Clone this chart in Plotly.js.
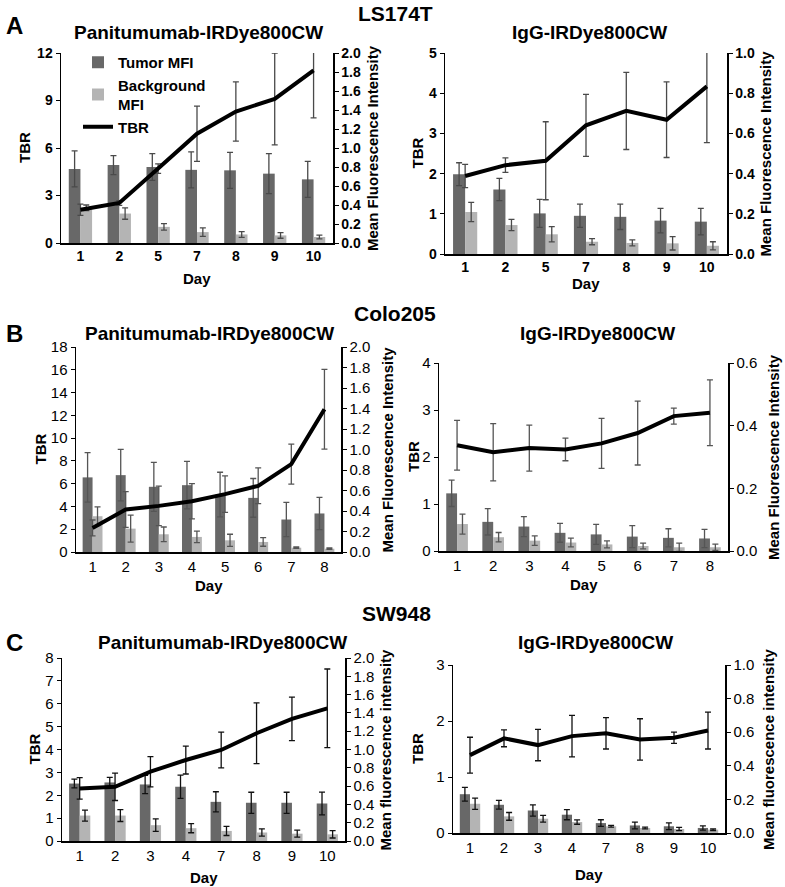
<!DOCTYPE html>
<html>
<head>
<meta charset="utf-8">
<script src="https://cdn.plot.ly/plotly-3.0.1.min.js"></script>
<style>
  body { margin: 0; background: #fff; }
  #chart { width: 785px; height: 887px; }
</style>
</head>
<body>
<div id="chart"></div>
<script>
// day labels
const daysA = ['1', '2', '5', '7', '8', '9', '10'];
const daysB = ['1', '2', '3', '4', '5', '6', '7', '8'];
const daysC = ['1', '2', '3', '4', '7', '8', '9', '10'];

// LS174T - Panitumumab (MFI on right axis, TBR on left axis)
const tumorA1 = [0.78, 0.82, 0.80, 0.77, 0.765, 0.73, 0.67];
const tumorErrA1 = [0.19, 0.10, 0.14, 0.19, 0.19, 0.21, 0.19];
const bgA1 = [0.37, 0.31, 0.17, 0.115, 0.09, 0.08, 0.063];
const bgErrA1 = [0.03, 0.06, 0.035, 0.045, 0.03, 0.03, 0.02];
const tbrA1 = [2.1, 2.53, 4.7, 6.9, 8.3, 9.1, 10.9];
const tbrErrA1 = [0.35, 0.15, 0.3, 1.75, 1.87, 2.9, 3.0];

// LS174T - IgG
const tumorA2 = [0.397, 0.321, 0.202, 0.19, 0.185, 0.166, 0.161];
const tumorErrA2 = [0.057, 0.055, 0.07, 0.058, 0.063, 0.061, 0.066];
const bgA2 = [0.209, 0.144, 0.098, 0.061, 0.055, 0.053, 0.041];
const bgErrA2 = [0.048, 0.028, 0.038, 0.015, 0.015, 0.033, 0.02];
const tbrA2 = [1.94, 2.21, 2.32, 3.2, 3.56, 3.34, 4.17];
const tbrErrA2 = [0.29, 0.18, 0.97, 0.77, 0.96, 0.94, 1.4];

// Colo205 - Panitumumab
const tumorB1 = [0.728, 0.75, 0.636, 0.652, 0.56, 0.528, 0.317, 0.376];
const tumorErrB1 = [0.241, 0.251, 0.239, 0.232, 0.218, 0.189, 0.167, 0.157];
const bgB1 = [0.349, 0.228, 0.173, 0.147, 0.114, 0.098, 0.042, 0.032];
const bgErrB1 = [0.091, 0.131, 0.071, 0.056, 0.059, 0.042, 0.007, 0.007];
const tbrB1 = [2.11, 3.73, 4.05, 4.46, 5.08, 5.81, 7.72, 12.54];
const tbrErrB1 = [0.7, 1.57, 1.73, 1.55, 1.6, 1.57, 1.76, 3.5];

// Colo205 - IgG
const tumorB2 = [0.184, 0.093, 0.078, 0.058, 0.053, 0.046, 0.042, 0.040];
const tumorErrB2 = [0.042, 0.042, 0.032, 0.03, 0.032, 0.035, 0.029, 0.029];
const bgB2 = [0.086, 0.044, 0.033, 0.027, 0.021, 0.016, 0.012, 0.012];
const bgErrB2 = [0.032, 0.015, 0.015, 0.014, 0.011, 0.009, 0.013, 0.01];
const tbrB2 = [2.25, 2.1, 2.19, 2.16, 2.29, 2.51, 2.87, 2.94];
const tbrErrB2 = [0.53, 0.61, 0.49, 0.24, 0.53, 0.68, 0.17, 0.7];

// SW948 - Panitumumab
const tumorC1 = [0.628, 0.64, 0.618, 0.593, 0.428, 0.418, 0.418, 0.41];
const tumorErrC1 = [0.048, 0.055, 0.1, 0.128, 0.11, 0.115, 0.115, 0.125];
const bgC1 = [0.278, 0.278, 0.173, 0.14, 0.11, 0.093, 0.08, 0.073];
const bgErrC1 = [0.06, 0.065, 0.068, 0.05, 0.05, 0.04, 0.038, 0.04];
const tbrC1 = [2.3, 2.37, 3.03, 3.54, 3.98, 4.71, 5.34, 5.8];
const tbrErrC1 = [0.47, 0.6, 0.66, 0.61, 0.78, 1.33, 0.95, 1.72];

// SW948 - IgG
const tumorC2 = [0.231, 0.168, 0.134, 0.109, 0.059, 0.045, 0.04, 0.03];
const tumorErrC2 = [0.041, 0.026, 0.033, 0.03, 0.02, 0.02, 0.02, 0.013];
const bgC2 = [0.174, 0.099, 0.085, 0.065, 0.04, 0.03, 0.024, 0.02];
const bgErrC2 = [0.033, 0.023, 0.02, 0.013, 0.005, 0.005, 0.01, 0.005];
const tbrC2 = [1.39, 1.69, 1.57, 1.73, 1.78, 1.67, 1.7, 1.83];
const tbrErrC2 = [0.32, 0.15, 0.28, 0.37, 0.28, 0.37, 0.1, 0.33];

const W = 785, H = 887;
const FONT = 'Liberation Sans, Arial, sans-serif';
const TUMOR = '#686868';
const BG = '#b4b4b4';

// pixel box of each plot area: [left, right, top, bottom]
const panels = [
  { days: daysA, tumor: tumorA1, tumorErr: tumorErrA1, bg: bgA1, bgErr: bgErrA1, tbr: tbrA1, tbrErr: tbrErrA1,
    box: [61, 333, 53, 243], tbrMax: 12, tbrStep: 3, mfiMax: 2.0, bold: true, errColor: '#4a4a4a',
    title: 'Panitumumab-IRDye800CW', titlePos: [198, 33], rightTitle: 'Mean Fluorescence Intensity',
    tbrTitleX: 25, rightTitleX: 373, dayY: 278 },
  { days: daysA, tumor: tumorA2, tumorErr: tumorErrA2, bg: bgA2, bgErr: bgErrA2, tbr: tbrA2, tbrErr: tbrErrA2,
    box: [445, 727, 53, 254], tbrMax: 5, tbrStep: 1, mfiMax: 1.0, bold: true, errColor: '#4a4a4a',
    title: 'IgG-IRDye800CW', titlePos: [589, 33], rightTitle: 'Mean Fluorescence Intensity',
    tbrTitleX: 417, rightTitleX: 765, dayY: 283 },
  { days: daysB, tumor: tumorB1, tumorErr: tumorErrB1, bg: bgB1, bgErr: bgErrB1, tbr: tbrB1, tbrErr: tbrErrB1,
    box: [76, 341, 347, 552], tbrMax: 18, tbrStep: 2, mfiMax: 2.0, bold: false, errColor: '#555555',
    title: 'Panitumumab-IRDye800CW', titlePos: [209, 334], rightTitle: 'Mean Fluorescence Intensity',
    tbrTitleX: 40, rightTitleX: 387, dayY: 585 },
  { days: daysB, tumor: tumorB2, tumorErr: tumorErrB2, bg: bgB2, bgErr: bgErrB2, tbr: tbrB2, tbrErr: tbrErrB2,
    box: [439, 728, 363, 551], tbrMax: 4, tbrStep: 1, mfiMax: 0.6, bold: false, errColor: '#555555',
    title: 'IgG-IRDye800CW', titlePos: [597, 334], rightTitle: 'Mean Fluorescence Intensity',
    tbrTitleX: 413, rightTitleX: 773, dayY: 584 },
  { days: daysC, tumor: tumorC1, tumorErr: tumorErrC1, bg: bgC1, bgErr: bgErrC1, tbr: tbrC1, tbrErr: tbrErrC1,
    box: [62, 345, 658, 841], tbrMax: 8, tbrStep: 1, mfiMax: 2.0, bold: false, errColor: '#111111',
    title: 'Panitumumab-IRDye800CW', titlePos: [222, 642], rightTitle: 'Mean fluorescence intensity',
    tbrTitleX: 34, rightTitleX: 385, dayY: 877 },
  { days: daysC, tumor: tumorC2, tumorErr: tumorErrC2, bg: bgC2, bgErr: bgErrC2, tbr: tbrC2, tbrErr: tbrErrC2,
    box: [453, 725, 665, 833], tbrMax: 3, tbrStep: 1, mfiMax: 1.0, bold: false, errColor: '#111111',
    title: 'IgG-IRDye800CW', titlePos: [595, 642], rightTitle: 'Mean fluorescence intensity',
    tbrTitleX: 417, rightTitleX: 768, dayY: 874 }
];

const px = x => x / W;
const py = y => 1 - y / H;

const traces = [];
const layout = {
  width: W, height: H,
  margin: { l: 0, r: 0, t: 0, b: 0 },
  paper_bgcolor: '#ffffff',
  plot_bgcolor: 'rgba(0,0,0,0)',
  font: { family: FONT, color: '#000000' },
  barmode: 'group',
  bargap: 0.4,
  bargroupgap: 0,
  showlegend: true,
  legend: {
    x: px(78), y: py(46), xanchor: 'left', yanchor: 'top',
    bgcolor: 'rgba(0,0,0,0)',
    font: { family: FONT, size: 15, weight: 'bold' },
    itemwidth: 30, tracegroupgap: 0
  },
  annotations: []
};

function note(text, x, y, size, angle) {
  layout.annotations.push({
    text: '<b>' + text + '</b>', x: px(x), y: py(y), xref: 'paper', yref: 'paper',
    xanchor: 'center', yanchor: 'middle', showarrow: false, textangle: angle || 0,
    font: { family: FONT, size: size, color: '#000000' }
  });
}

panels.forEach((p, i) => {
  const k = i + 1;
  const xa = k === 1 ? 'x' : 'x' + k;
  const mfiN = 2 * k - 1, tbrN = 2 * k;
  const ym = mfiN === 1 ? 'y' : 'y' + mfiN;
  const yt = 'y' + tbrN;
  const [l, r, t, b] = p.box;
  const tickFont = { family: FONT, size: p.bold ? 14 : 15, color: '#000000', weight: p.bold ? 'bold' : 'normal' };
  const first = k === 1;

  traces.push({
    type: 'bar', x: p.days, y: p.tumor, xaxis: xa, yaxis: ym,
    name: 'Tumor MFI', showlegend: first, legendrank: 1,
    marker: { color: TUMOR, line: { width: 0 } },
    error_y: { type: 'data', array: p.tumorErr, color: p.errColor, thickness: 1.3, width: 3 }
  });
  traces.push({
    type: 'bar', x: p.days, y: p.bg, xaxis: xa, yaxis: ym,
    name: 'Background<br>MFI', showlegend: first, legendrank: 2,
    marker: { color: BG, line: { width: 0 } },
    error_y: { type: 'data', array: p.bgErr, color: p.errColor, thickness: 1.3, width: 3 }
  });
  traces.push({
    type: 'scatter', mode: 'lines', x: p.days, y: p.tbr, xaxis: xa, yaxis: yt,
    name: 'TBR', showlegend: first, legendrank: 3,
    line: { color: '#000000', width: 4 },
    error_y: { type: 'data', array: p.tbrErr, color: p.errColor, thickness: 1.3, width: 3 }
  });

  layout[first ? 'xaxis' : 'xaxis' + k] = {
    domain: [px(l), px(r)], anchor: ym, type: 'category',
    showline: true, linecolor: '#000000', linewidth: 1.5,
    ticks: '', showgrid: false, zeroline: false, tickfont: tickFont, fixedrange: true
  };
  layout[mfiN === 1 ? 'yaxis' : 'yaxis' + mfiN] = {
    domain: [py(b), py(t)], anchor: xa, side: 'right',
    range: [0, p.mfiMax], dtick: 0.2, tickformat: '.1f',
    showline: true, linecolor: '#000000', linewidth: 1.5,
    ticks: 'outside', ticklen: 4, tickcolor: '#000000',
    showgrid: false, zeroline: false, tickfont: tickFont
  };
  layout['yaxis' + tbrN] = {
    overlaying: ym, anchor: xa, side: 'left',
    range: [0, p.tbrMax], dtick: p.tbrStep,
    showline: true, linecolor: '#000000', linewidth: 1.5,
    ticks: 'outside', ticklen: 4, tickcolor: '#000000',
    showgrid: false, zeroline: false, tickfont: tickFont
  };

  note(p.title, p.titlePos[0], p.titlePos[1], 19);
  note('TBR', p.tbrTitleX, (t + b) / 2, 15, -90);
  note(p.rightTitle, p.rightTitleX, (t + b) / 2, 15, -90);
  note('Day', (l + r) / 2, p.dayY, 15);
});

// panel letters and cell line names
note('A', 14, 25, 24);
note('B', 14, 334, 24);
note('C', 14, 642, 24);
note('LS174T', 395, 14, 21);
note('Colo205', 395, 313, 21);
note('SW948', 396, 613, 21);

Plotly.newPlot('chart', traces, layout, { staticPlot: true });
</script>
</body>
</html>
